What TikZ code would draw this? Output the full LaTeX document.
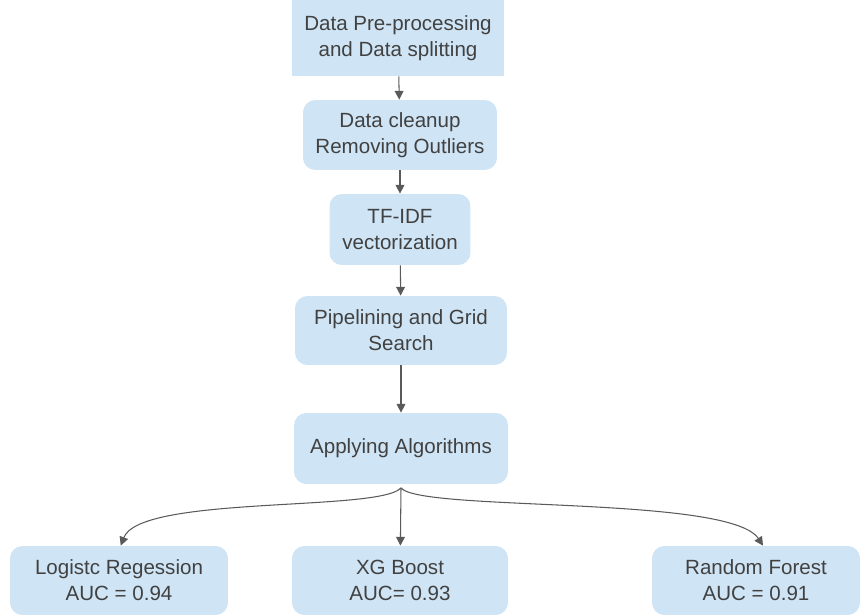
\documentclass[tikz,border=0pt]{standalone}
\usepackage{fontspec}
\setmainfont{Liberation Sans}
\usetikzlibrary{arrows.meta}
\definecolor{boxblue}{RGB}{207,228,244}
\definecolor{txtgray}{RGB}{65,65,65}
\definecolor{linegray}{RGB}{90,90,90}
\tikzset{%
	block/.style    = {fill=boxblue, rectangle, align=center, text=txtgray,
		font=\fontsize{11.7}{14.9}\selectfont, inner sep=0pt},
	rblock/.style   = {block, rounded corners=7pt},
	flow/.style     = {draw=linegray, line width=0.6pt,
		-{Triangle[length=5pt,width=5pt]}}
}
\begin{document}
\begin{tikzpicture}[x=0.02cm,y=-0.02cm]
			\useasboundingbox (0,0) rectangle (860,615);
			\node[block, minimum width=4.26cm, minimum height=1.52cm] (prep) at (398,38) {Data Pre-processing\\and Data splitting};
			\node[rblock, minimum width=3.88cm, minimum height=1.4cm] (clean) at (400,135) {Data cleanup\\Removing Outliers};
			\node[rblock, minimum width=2.82cm, minimum height=1.42cm] (tfidf) at (400,229.5) {TF-IDF\\vectorization};
			\node[rblock, minimum width=4.24cm, minimum height=1.38cm] (grid) at (401,330.5) {Pipelining and Grid\\Search};
			\node[rblock, minimum width=4.28cm, minimum height=1.42cm] (algo) at (401,448.5) {Applying Algorithms};
			\node[rblock, minimum width=4.36cm, minimum height=1.38cm] (lr) at (119,580.5) {Logistc Regession\\AUC = 0.94};
			\node[rblock, minimum width=4.32cm, minimum height=1.38cm] (xgb) at (400,580.5) {XG Boost\\AUC= 0.93};
			\node[rblock, minimum width=4.16cm, minimum height=1.38cm] (rf) at (756,580.5) {Random Forest\\AUC = 0.91};
			
			\draw[flow] (prep) -- (clean);
			\draw[flow] (clean) -- (tfidf);
			\draw[flow] (tfidf) -- (grid);
			\draw[flow] (grid) -- (algo);
			\coordinate (split) at ([yshift=-2pt]algo.south);
			\draw[flow] (split) .. controls (380,512) and (140,495) .. ([xshift=1pt]lr.north);
			\draw[flow] (split) -- (xgb);
			\draw[flow] (split) .. controls (420,512) and (730,495) .. ([xshift=4pt]rf.north);
		\end{tikzpicture}
\end{document}
